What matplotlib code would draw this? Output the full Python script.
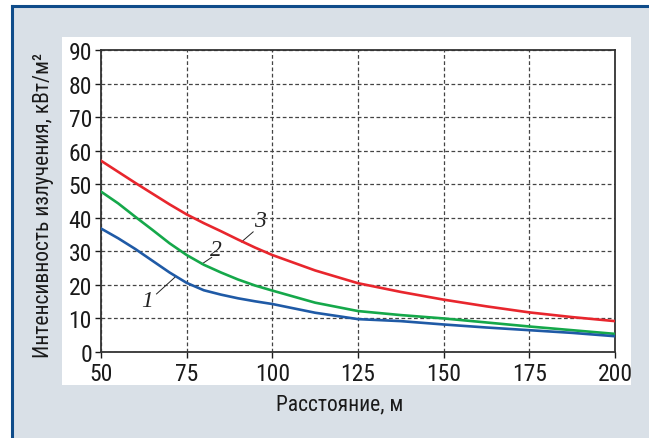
import matplotlib.pyplot as plt
import matplotlib.patches as patches
from matplotlib import font_manager

# distance, m
dist = [50, 55, 60, 65, 70, 75, 80, 85, 90, 95, 100, 112.5, 125, 137.5, 150, 162.5, 175, 187.5, 200]
# radiation intensity, kW/m2
curve1 = [36.8, 33.9, 30.7, 27.2, 23.7, 20.6, 18.4, 17.1, 16.0, 15.1, 14.3, 11.7, 9.8, 9.2, 8.2, 7.3, 6.5, 5.7, 4.7]
curve2 = [47.8, 44.3, 40.3, 36.4, 32.4, 28.9, 26.0, 23.7, 21.6, 19.8, 18.3, 14.7, 12.2, 11.0, 10.0, 8.8, 7.6, 6.5, 5.4]
curve3 = [57.0, 53.7, 50.4, 47.2, 44.0, 41.0, 38.4, 36.0, 33.5, 31.1, 28.9, 24.3, 20.5, 17.9, 15.6, 13.6, 11.8, 10.4, 9.2]

xticks = [50, 75, 100, 125, 150, 175, 200]
yticks = [0, 10, 20, 30, 40, 50, 60, 70, 80, 90]

names = set(f.name for f in font_manager.fontManager.ttflist)
fam = 'DejaVu Sans'
for cand in ['Roboto Condensed', 'PT Sans Narrow', 'Fira Sans Condensed', 'Archivo Narrow']:
    if cand in names:
        fam = cand
        break
plt.rcParams['font.family'] = [fam, 'DejaVu Sans']
serif_fam = 'Liberation Serif' if 'Liberation Serif' in names else 'DejaVu Serif'

fig = plt.figure(figsize=(6.49, 4.39), dpi=100)
fig.patch.set_facecolor('white')

# background panel and frame
fig.add_artist(patches.Rectangle((12/649, 0), 1, 1 - 7/439, transform=fig.transFigure,
                                 facecolor='#d9e0e7', edgecolor='none', zorder=-3))
fig.add_artist(plt.Line2D([12/649, 1], [1 - 7/439, 1 - 7/439], transform=fig.transFigure,
                          color='#0f4c8a', lw=2.2))
fig.add_artist(plt.Line2D([12/649, 12/649], [0, 1 - 7/439], transform=fig.transFigure,
                          color='#0f4c8a', lw=2.2))
fig.add_artist(patches.Rectangle((62/649, (439 - 386)/439), (631 - 62)/649, (386 - 38)/439,
                                 transform=fig.transFigure, facecolor='white',
                                 edgecolor='none', zorder=-2))

ax = fig.add_axes([101/649, (439 - 353)/439, (615 - 101)/649, (353 - 51)/439])
ax.set_facecolor('none')

ax.plot(dist, curve3, color='#e8262d', lw=1.9, zorder=3)
ax.plot(dist, curve2, color='#15a84a', lw=1.9, zorder=3)
ax.plot(dist, curve1, color='#1f5aa6', lw=1.9, zorder=3)

ax.set_xlim(50, 200)
ax.set_ylim(0, 90)
ax.set_xticks(xticks)
ax.set_yticks(yticks)
ax.grid(True, color='#444444', linestyle=(0, (3, 2)), lw=0.9)
ax.tick_params(direction='out', length=4, width=1, labelsize=17, colors='#1a1a1a')
ax.tick_params(axis='y', pad=2.5)
ax.tick_params(axis='x', pad=3)
for s in ax.spines.values():
    s.set_color('#333333')
    s.set_linewidth(1.3)

# curve labels
serif = dict(family=serif_fam, style='italic', fontsize=17, color='#222222')
ax.text(63.4, 15.2, '1', ha='center', va='center', **serif)
ax.plot([66.2, 71.6], [17.3, 22.3], color='#222222', lw=0.7)
ax.text(83.5, 30.4, '2', ha='center', va='center', **serif)
ax.plot([79.4, 82.3], [26.2, 28.2], color='#222222', lw=0.7)
ax.text(96.4, 39.1, '3', ha='center', va='center', **serif)
ax.plot([91.0, 94.4], [32.8, 35.8], color='#222222', lw=0.7)

fig.text(44/649, 1 - 205/439, 'Интенсивность излучения, кВт/м²', rotation=90,
         ha='center', va='center', fontsize=15.5, color='#1a1a1a')
fig.text(340/649, 1 - 405/439, 'Расстояние, м', ha='center', va='center',
         fontsize=15.5, color='#1a1a1a')

fig.savefig('out.png', dpi=100)
